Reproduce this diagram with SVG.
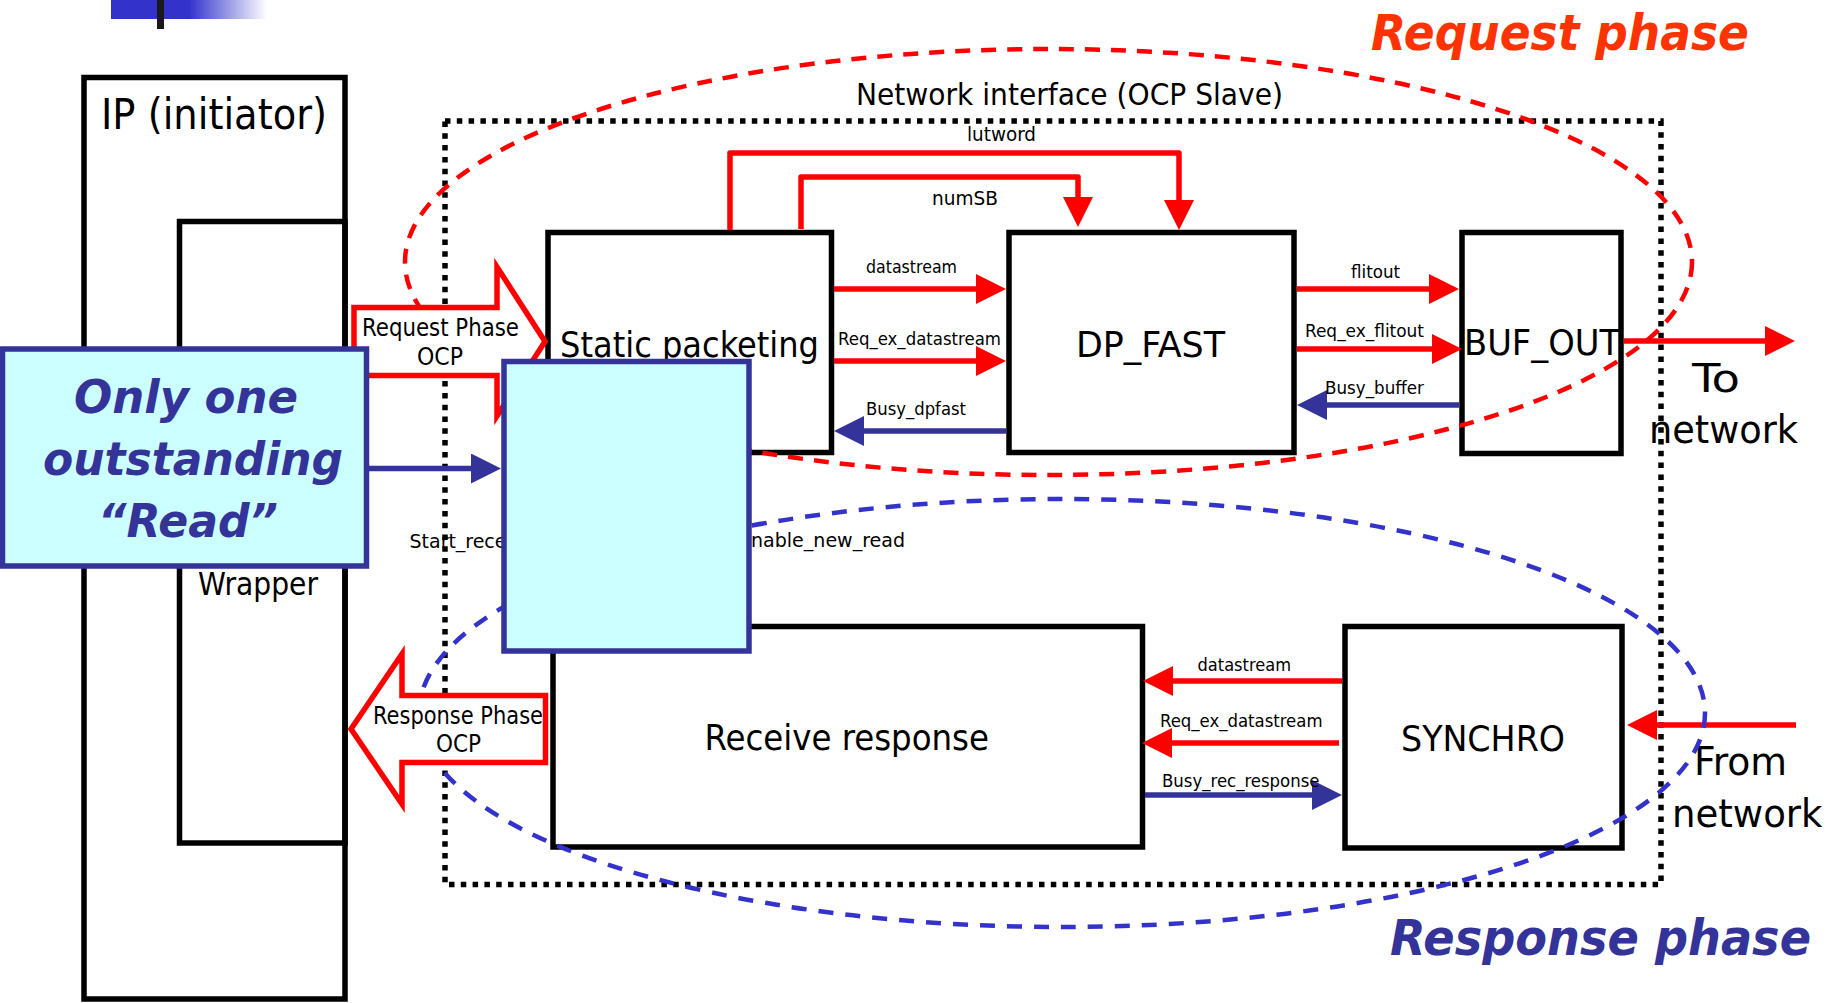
<svg xmlns="http://www.w3.org/2000/svg" width="1840" height="1003" viewBox="0 0 1840 1003">
  <defs>
    <linearGradient id="barFade" x1="111" y1="0" x2="267" y2="0" gradientUnits="userSpaceOnUse">
      <stop offset="0" stop-color="#3333CC"/>
      <stop offset="0.5" stop-color="#3333CC"/>
      <stop offset="1" stop-color="#FFFFFF"/>
    </linearGradient>
    <marker id="ah-red" markerUnits="userSpaceOnUse" markerWidth="30" markerHeight="30" viewBox="0 0 30 30" refX="2" refY="15" orient="auto">
      <path d="M0,0 L30,15 L0,30 Z" fill="#FF0000"/>
    </marker>
    <marker id="ah-blue" markerUnits="userSpaceOnUse" markerWidth="30" markerHeight="30" viewBox="0 0 30 30" refX="2" refY="15" orient="auto">
      <path d="M0,0 L30,15 L0,30 Z" fill="#333399"/>
    </marker>
  </defs>
  <style>
    .box { fill: #FFFFFF; stroke: #000000; stroke-width: 5.5; }
    .frame { fill: none; stroke: #000000; stroke-width: 5.5; }
    .dotted { fill: none; stroke: #000000; stroke-width: 5.5; stroke-dasharray: 5.5 6.3; }
    .note { fill: #CCFFFF; stroke: #333399; stroke-width: 5.5; }
    .red { fill: none; stroke: #FF0000; stroke-width: 5.5; stroke-linejoin: round; marker-end: url(#ah-red); }
    .blue { fill: none; stroke: #333399; stroke-width: 5.5; marker-end: url(#ah-blue); }
    .phase { fill: #FFFFFF; stroke: #FF0000; stroke-width: 5.5; stroke-linejoin: miter; }
    .req-zone { fill: none; stroke: #FF0000; stroke-width: 4.5; stroke-dasharray: 15 11; }
    .resp-zone { fill: none; stroke: #3333CC; stroke-width: 4.5; stroke-dasharray: 15 12; }
    text { font-family: "DejaVu Sans Condensed", "DejaVu Sans", sans-serif; fill: #000000; }
    .big { font-size: 36px; }
    .sig { font-size: 18px; }
    .ocp { font-size: 24px; }
    .callout { font-family: "DejaVu Sans", "Liberation Sans", sans-serif; font-weight: bold; font-style: italic; }
  </style>

  <!-- slide header bar -->
  <rect x="111" y="0" width="156" height="19" fill="url(#barFade)"/>
  <rect x="157" y="0" width="7" height="29" fill="#1A1A1A"/>

  <!-- initiator and its wrapper -->
  <g id="ip-initiator">
    <rect class="frame" x="84" y="77.5" width="261" height="921.5"/>
    <text x="101" y="129" font-size="42" textLength="226" lengthAdjust="spacingAndGlyphs">IP (initiator)</text>
  </g>
  <g id="wrapper">
    <rect class="frame" x="179.5" y="221.5" width="165.5" height="621.5"/>
    <text x="198" y="595" font-size="32" textLength="120" lengthAdjust="spacingAndGlyphs">Wrapper</text>
  </g>

  <!-- network interface boundary -->
  <g id="network-interface">
    <rect class="dotted" x="445" y="121" width="1216" height="763.5"/>
    <text x="856" y="105" font-size="30.5" textLength="427" lengthAdjust="spacingAndGlyphs">Network interface (OCP Slave)</text>
  </g>

  <!-- functional blocks -->
  <g id="static-packeting">
    <rect class="box" x="548" y="232.5" width="283.5" height="220"/>
    <text class="big" x="560" y="357" font-size="37" textLength="259" lengthAdjust="spacingAndGlyphs">Static packeting</text>
  </g>
  <g id="dp-fast">
    <rect class="box" x="1009" y="232.5" width="285" height="220"/>
    <text class="big" x="1076" y="357" textLength="149" lengthAdjust="spacingAndGlyphs">DP_FAST</text>
  </g>
  <g id="buf-out">
    <rect class="box" x="1462" y="232.5" width="159" height="221"/>
    <text class="big" x="1464" y="355" font-size="35" textLength="156" lengthAdjust="spacingAndGlyphs">BUF_OUT</text>
  </g>
  <g id="receive-response">
    <rect class="box" x="553" y="626.5" width="589.5" height="220.5"/>
    <text class="big" x="704.5" y="750" font-size="35" textLength="284.5" lengthAdjust="spacingAndGlyphs">Receive response</text>
  </g>
  <g id="synchro">
    <rect class="box" x="1345" y="626.5" width="277" height="221.5"/>
    <text class="big" x="1401" y="751" textLength="164" lengthAdjust="spacingAndGlyphs">SYNCHRO</text>
  </g>

  <!-- signal connectors -->
  <g id="connectors">
    <path class="red" d="M730,230 V153 H1179 V202"/>
    <path class="red" d="M801,229 V177 H1078 V199"/>
    <path class="red" d="M834,289 H978"/>
    <path class="red" d="M834,361 H978"/>
    <path class="blue" d="M1006,431 H862"/>
    <path class="red" d="M1297,289 H1431"/>
    <path class="red" d="M1297,349 H1434"/>
    <path class="blue" d="M1459,405 H1325"/>
    <path class="red" d="M1624,341 H1767"/>
    <path class="red" d="M1796,725 H1655"/>
    <path class="red" d="M1342,681 H1171"/>
    <path class="red" d="M1339,743 H1170"/>
    <path class="blue" d="M1145,795 H1314"/>
    <path class="blue" d="M369,468.5 H473"/>
  </g>

  <!-- signal names -->
  <g id="signal-labels">
    <text x="967" y="141" font-size="20" textLength="69" lengthAdjust="spacingAndGlyphs">lutword</text>
    <text x="932" y="205" font-size="20" textLength="66" lengthAdjust="spacingAndGlyphs">numSB</text>
    <text class="sig" x="866" y="273" textLength="91" lengthAdjust="spacingAndGlyphs">datastream</text>
    <text class="sig" x="838" y="345" textLength="163" lengthAdjust="spacingAndGlyphs">Req_ex_datastream</text>
    <text class="sig" x="866" y="415" textLength="100" lengthAdjust="spacingAndGlyphs">Busy_dpfast</text>
    <text class="sig" x="1351" y="278" textLength="49" lengthAdjust="spacingAndGlyphs">flitout</text>
    <text class="sig" x="1305" y="337" textLength="119" lengthAdjust="spacingAndGlyphs">Req_ex_flitout</text>
    <text class="sig" x="1325" y="394" textLength="99" lengthAdjust="spacingAndGlyphs">Busy_buffer</text>
    <text class="sig" x="1197.5" y="671" textLength="93.5" lengthAdjust="spacingAndGlyphs">datastream</text>
    <text class="sig" x="1160" y="727" textLength="162.5" lengthAdjust="spacingAndGlyphs">Req_ex_datastream</text>
    <text class="sig" x="1162" y="787" textLength="157.5" lengthAdjust="spacingAndGlyphs">Busy_rec_response</text>
    <text x="409.5" y="548" font-size="20" textLength="97" lengthAdjust="spacingAndGlyphs">Start_rece</text>
    <text x="751" y="547" font-size="20" textLength="154" lengthAdjust="spacingAndGlyphs">nable_new_read</text>
    <text x="1692" y="392" font-size="39" textLength="48" lengthAdjust="spacingAndGlyphs">To</text>
    <text x="1649" y="443" font-size="39" textLength="149" lengthAdjust="spacingAndGlyphs">network</text>
    <text x="1694" y="775" font-size="39" textLength="93" lengthAdjust="spacingAndGlyphs">From</text>
    <text x="1672" y="827" font-size="39" textLength="150.5" lengthAdjust="spacingAndGlyphs">network</text>
  </g>

  <!-- request / response phase regions -->
  <ellipse class="req-zone" cx="1048.5" cy="262" rx="643.5" ry="213"/>
  <ellipse class="resp-zone" cx="1062" cy="713" rx="643" ry="214"/>

  <!-- OCP phase arrows -->
  <g id="request-phase-ocp">
    <path class="phase" d="M354,307.5 H497 V267 L545,341.5 L497,416 V375.5 H354 Z"/>
    <text class="ocp" x="362" y="336" textLength="157" lengthAdjust="spacingAndGlyphs">Request Phase</text>
    <text class="ocp" x="417" y="365" textLength="46" lengthAdjust="spacingAndGlyphs">OCP</text>
  </g>
  <g id="response-phase-ocp">
    <path class="phase" d="M351,729 L402,654 V695.5 H545.5 V762.5 H402 V804 Z"/>
    <text class="ocp" x="373" y="724" textLength="170" lengthAdjust="spacingAndGlyphs">Response Phase</text>
    <text class="ocp" x="436" y="752" textLength="45" lengthAdjust="spacingAndGlyphs">OCP</text>
  </g>

  <!-- read-control annotations -->
  <g id="read-control">
    <rect class="note" x="504" y="361.5" width="245" height="289.5"/>
  </g>
  <g id="one-outstanding-read">
    <rect class="note" x="2.5" y="349" width="364" height="217"/>
    <text class="callout" x="74" y="413" font-size="47" fill="#333399" style="fill:#333399" textLength="224" lengthAdjust="spacingAndGlyphs">Only one</text>
    <text class="callout" x="43" y="475" font-size="47" style="fill:#333399" textLength="300" lengthAdjust="spacingAndGlyphs">outstanding</text>
    <text class="callout" x="98" y="537" font-size="47" style="fill:#333399" textLength="180" lengthAdjust="spacingAndGlyphs">“Read”</text>
  </g>

  <!-- phase titles -->
  <text class="callout" x="1371" y="50" font-size="50" style="fill:#FF3300" textLength="378" lengthAdjust="spacingAndGlyphs">Request phase</text>
  <text class="callout" x="1390" y="955" font-size="49" style="fill:#333399" textLength="421" lengthAdjust="spacingAndGlyphs">Response phase</text>
</svg>
